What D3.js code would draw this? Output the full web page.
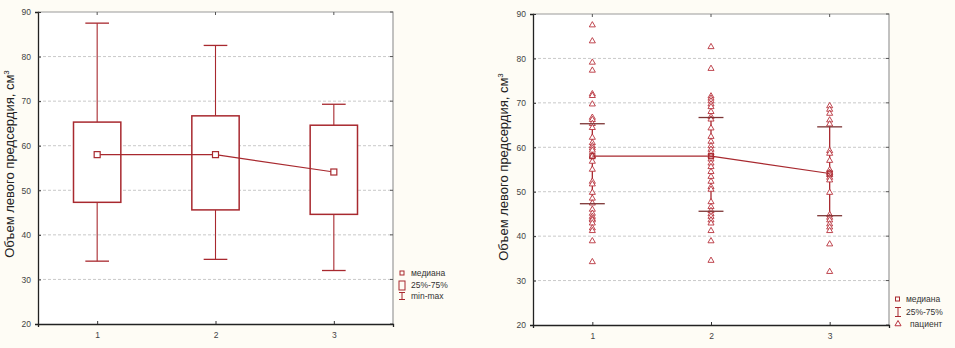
<!DOCTYPE html>
<html><head><meta charset="utf-8">
<script src="https://cdn.jsdelivr.net/npm/d3@7"></script>
<style>
html,body{margin:0;padding:0;background:#fefcf5;}
svg{display:block;font-family:"Liberation Sans",Arial,sans-serif;}
</style></head>
<body>
<svg id="c" width="955" height="348"></svg>
<script>
// ---------- data ----------
const categories = ["1", "2", "3"];
const yTicks = [20, 30, 40, 50, 60, 70, 80, 90];
const minVals = [34.1, 34.5, 32.0];
const q1Vals = [47.3, 45.6, 44.6];
const medianVals = [58.0, 58.0, 54.1];
const q3Vals = [65.3, 66.7, 64.6];
const maxVals = [87.5, 82.5, 69.3];
const patients1 = [87.5, 83.9, 79.1, 77.3, 72.0, 71.6, 69.7, 66.7, 66.2, 65.3, 64.4, 62.2, 61.0, 60.3, 59.8, 59.3, 58.0, 58.0, 56.8, 55.0, 52.3, 51.7, 49.8, 48.5, 47.4, 46.0, 45.1, 44.4, 43.9, 43.6, 42.9, 41.8, 41.2, 38.9, 34.2];
const patients2 = [82.6, 77.7, 71.5, 71.0, 70.4, 69.7, 69.1, 68.0, 66.9, 66.3, 64.3, 62.4, 61.3, 60.3, 59.5, 58.8, 58.0, 57.3, 56.4, 55.6, 54.5, 53.4, 52.3, 51.1, 50.5, 47.7, 46.6, 45.7, 45.0, 44.4, 43.6, 42.9, 41.2, 38.9, 34.5];
const patients3 = [69.3, 68.5, 67.6, 66.1, 65.2, 59.2, 58.6, 57.0, 54.9, 54.3, 53.8, 53.2, 52.6, 49.8, 44.8, 44.2, 43.6, 42.7, 42.0, 41.2, 38.2, 32.0];
const patients = [patients1, patients2, patients3];
const legendLeft = ["медиана", "25%-75%", "min-max"];
const legendRight = ["медиана", "25%-75%", "пациент"];
const yTitle = "Объем левого предсердия, см";

// ---------- styles ----------
const RED = "#a8292f";
const TRI = "#b8323c";
const CAP = "#7d3535";
const GRID = "#c9c9c9";

const svg = d3.select("#c");

function frame(x, y, plot) {
  const [x0, x1] = x.range();
  const [y0, y1] = y.range(); // bottom, top
  const g = svg.append("g");
  g.append("rect").attr("x", x0).attr("y", y1).attr("width", x1 - x0).attr("height", y0 - y1)
    .attr("fill", "#fff");
  // grid
  g.selectAll(".grid").data(yTicks.slice(1, -1)).join("line")
    .attr("x1", x0).attr("x2", x1).attr("y1", d => y(d)).attr("y2", d => y(d))
    .attr("stroke", GRID).attr("stroke-width", 1).attr("stroke-dasharray", "3,2");
  // top/right border
  g.append("path").attr("d", `M${x0},${y1}H${x1}V${y0}`).attr("fill", "none")
    .attr("stroke", "#9a9a9a").attr("stroke-width", 1.2);
  // right small ticks
  g.selectAll(".rt").data(yTicks).join("line")
    .attr("x1", x1 - 3).attr("x2", x1).attr("y1", d => y(d)).attr("y2", d => y(d))
    .attr("stroke", "#555");
  g.selectAll(".tt").data(categories).join("line")
    .attr("x1", d => x(d)).attr("x2", d => x(d)).attr("y1", y1).attr("y2", y1 + 3)
    .attr("stroke", "#555");
  // axes
  const ya = g.append("g").attr("transform", `translate(${x0},0)`)
    .call(d3.axisLeft(y).tickValues(yTicks).tickSize(3).tickPadding(4));
  const xa = g.append("g").attr("transform", `translate(0,${y0})`)
    .call(d3.axisBottom(x).tickSize(3).tickPadding(5));
  [ya, xa].forEach(a => {
    a.select(".domain").attr("stroke", "#222").attr("stroke-width", 1.3);
    a.selectAll(".tick line").attr("stroke", "#333");
    a.selectAll("text").attr("fill", "#444").attr("font-size", 8.5);
  });
  xa.selectAll(".tick line").attr("transform", "translate(0,-3)");
  ya.selectAll(".tick line").attr("transform", "translate(3,0)");
  return g;
}

function title(cx, cy) {
  const t = svg.append("text")
    .attr("transform", `translate(${cx},${cy}) rotate(-90)`)
    .attr("text-anchor", "middle").attr("font-size", 13).attr("fill", "#222");
  t.append("tspan").text(yTitle);
  t.append("tspan").attr("font-size", 8).attr("dy", -5).text("3");
}

// ---------- left panel ----------
const xL = d3.scalePoint(categories, [38, 393]).padding(0.5);
const yL = d3.scaleLinear([20, 90], [324, 12]);
frame(xL, yL);
title(14, 164);
const bw = xL.step() * 0.4, cw = xL.step() * 0.2;
const gl = svg.append("g");
categories.forEach((c, i) => {
  const cx = xL(c);
  gl.append("line").attr("x1", cx).attr("x2", cx).attr("y1", yL(maxVals[i])).attr("y2", yL(q3Vals[i]))
    .attr("stroke", RED).attr("stroke-width", 1.1);
  gl.append("line").attr("x1", cx).attr("x2", cx).attr("y1", yL(q1Vals[i])).attr("y2", yL(minVals[i]))
    .attr("stroke", RED).attr("stroke-width", 1.1);
  [maxVals[i], minVals[i]].forEach(v => gl.append("line")
    .attr("x1", cx - cw / 2).attr("x2", cx + cw / 2).attr("y1", yL(v)).attr("y2", yL(v))
    .attr("stroke", RED).attr("stroke-width", 1.3));
  gl.append("rect").attr("x", cx - bw / 2).attr("y", yL(q3Vals[i]))
    .attr("width", bw).attr("height", yL(q1Vals[i]) - yL(q3Vals[i]))
    .attr("fill", "#fff").attr("stroke", RED).attr("stroke-width", 1.5);
});
gl.append("path").datum(categories)
  .attr("d", d3.line().x(c => xL(c)).y((c, i) => yL(medianVals[i])))
  .attr("fill", "none").attr("stroke", RED).attr("stroke-width", 1.2);
gl.selectAll(".med").data(categories).join("rect")
  .attr("x", c => xL(c) - 3).attr("y", (c, i) => yL(medianVals[i]) - 3)
  .attr("width", 6).attr("height", 6).attr("fill", "#fff").attr("stroke", RED).attr("stroke-width", 1.2);

// left legend
const lg = svg.append("g");
lg.append("rect").attr("x", 400).attr("y", 271).attr("width", 4).attr("height", 4)
  .attr("fill", "none").attr("stroke", RED);
lg.append("rect").attr("x", 399).attr("y", 281).attr("width", 6).attr("height", 9)
  .attr("fill", "none").attr("stroke", RED);
lg.append("path").attr("d", "M399,292.5H405M402,292.5V299.5M399,299.5H405")
  .attr("fill", "none").attr("stroke", RED);
lg.selectAll("text").data(legendLeft).join("text")
  .attr("x", 411).attr("y", (d, i) => 276 + i * 11.5)
  .attr("font-size", 8.5).attr("fill", "#333").text(d => d);

// ---------- right panel ----------
const xR = d3.scalePoint(categories, [533, 889]).padding(0.5);
const yR = d3.scaleLinear([20, 90], [325, 14]);
frame(xR, yR);
title(508, 167);
const gr = svg.append("g");
const cw2 = xR.step() * 0.21;
const tri = d3.symbol().type(d3.symbolTriangle).size(16);
categories.forEach((c, i) => {
  const cx = xR(c);
  gr.append("line").attr("x1", cx).attr("x2", cx).attr("y1", yR(q3Vals[i])).attr("y2", yR(q1Vals[i]))
    .attr("stroke", RED).attr("stroke-width", 1.3);
  gr.selectAll(null).data(patients[i]).join("path")
    .attr("transform", v => `translate(${cx},${yR(v)})`)
    .attr("d", tri).attr("fill", "#fff").attr("stroke", TRI).attr("stroke-width", 0.9);
});
gr.append("path").datum(categories)
  .attr("d", d3.line().x(c => xR(c)).y((c, i) => yR(medianVals[i])))
  .attr("fill", "none").attr("stroke", RED).attr("stroke-width", 1.2);
categories.forEach((c, i) => {
  const cx = xR(c);
  [q3Vals[i], q1Vals[i]].forEach(v => gr.append("line")
    .attr("x1", cx - cw2 / 2).attr("x2", cx + cw2 / 2).attr("y1", yR(v)).attr("y2", yR(v))
    .attr("stroke", CAP).attr("stroke-width", 1.3));
});
gr.selectAll(".med").data(categories).join("rect")
  .attr("x", c => xR(c) - 2.5).attr("y", (c, i) => yR(medianVals[i]) - 2.5)
  .attr("width", 5).attr("height", 5).attr("fill", "none").attr("stroke", RED).attr("stroke-width", 1.1);

// right legend
const rg = svg.append("g");
rg.append("rect").attr("x", 895.5).attr("y", 297).attr("width", 4).attr("height", 4)
  .attr("fill", "none").attr("stroke", RED);
rg.append("path").attr("d", "M895,307.5H901M898,307.5V316.5M895,316.5H901")
  .attr("fill", "none").attr("stroke", RED);
rg.append("path").attr("transform", "translate(898,324)").attr("d", tri)
  .attr("fill", "#fff").attr("stroke", TRI);
rg.selectAll("text").data(legendRight).join("text")
  .attr("x", (d, i) => i === 2 ? 910 : 906).attr("y", (d, i) => 302 + i * 12.5)
  .attr("font-size", 8.5).attr("fill", "#333").text(d => d);
</script>
</body></html>
